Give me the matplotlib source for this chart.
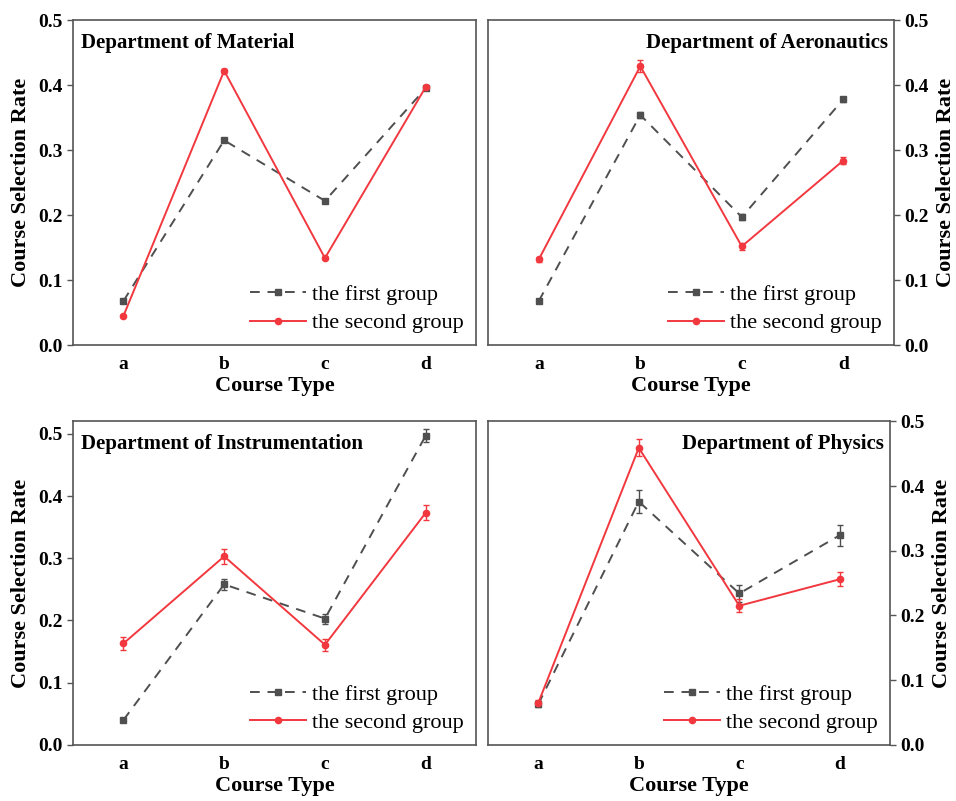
import numpy as np
import matplotlib
matplotlib.use("Agg")
import matplotlib.pyplot as plt

plt.rcParams['font.family'] = ['Liberation Serif', 'DejaVu Serif']
plt.rcParams['font.weight'] = 'bold'

# course types on the x axis
course_types = ['a', 'b', 'c', 'd']

# Department of Material
material_first = [0.068, 0.315, 0.222, 0.395]
material_first_err = [0.002, 0.002, 0.002, 0.002]
material_second = [0.045, 0.422, 0.134, 0.397]
material_second_err = [0.002, 0.002, 0.002, 0.002]

# Department of Aeronautics
aero_first = [0.068, 0.354, 0.197, 0.378]
aero_first_err = [0.003, 0.005, 0.004, 0.004]
aero_second = [0.132, 0.429, 0.152, 0.284]
aero_second_err = [0.004, 0.009, 0.005, 0.006]

# Department of Instrumentation
instr_first = [0.040, 0.258, 0.203, 0.497]
instr_first_err = [0.003, 0.009, 0.008, 0.010]
instr_second = [0.163, 0.303, 0.161, 0.373]
instr_second_err = [0.010, 0.012, 0.010, 0.012]

# Department of Physics
phys_first = [0.063, 0.376, 0.234, 0.324]
phys_first_err = [0.005, 0.018, 0.013, 0.016]
phys_second = [0.065, 0.459, 0.215, 0.256]
phys_second_err = [0.005, 0.013, 0.010, 0.011]

gray = '#4f4f4f'
red = '#f2383f'

fig = plt.figure(figsize=(9.56, 8.01), dpi=100)

panels = [
    ([0.0764, 0.569, 0.4216, 0.406], 'Department of Material', 'left', 0.5,
     material_first, material_first_err, material_second, material_second_err),
    ([0.5105, 0.569, 0.4247, 0.406], 'Department of Aeronautics', 'right', 0.5,
     aero_first, aero_first_err, aero_second, aero_second_err),
    ([0.0764, 0.070, 0.4216, 0.404], 'Department of Instrumentation', 'left', 0.52,
     instr_first, instr_first_err, instr_second, instr_second_err),
    ([0.5105, 0.070, 0.4205, 0.404], 'Department of Physics', 'right', 0.5,
     phys_first, phys_first_err, phys_second, phys_second_err),
]

x = np.arange(len(course_types))

for rect, title, side, ytop, f, fe, s, se in panels:
    ax = fig.add_axes(rect)
    h1 = ax.errorbar(x, f, yerr=fe, color=gray, ls=(0, (5, 4)), lw=1.4,
                     marker='s', ms=4, capsize=2.5, elinewidth=1)
    h2 = ax.errorbar(x, s, yerr=se, color=red, ls='-', lw=1.4,
                     marker='o', ms=4.5, capsize=2.5, elinewidth=1)
    ax.set_xlim(-0.5, 3.5)
    ax.set_ylim(0, ytop)
    ax.set_xticks(x)
    ax.set_xticklabels(course_types)
    ax.set_yticks(np.arange(0, 0.51, 0.1))
    ax.yaxis.set_major_formatter(matplotlib.ticker.FormatStrFormatter('%.1f'))
    for sp in ax.spines.values():
        sp.set_color('#555555')
        sp.set_linewidth(1.2)
    ax.tick_params(axis='x', length=0, pad=8, labelsize=14)
    ax.tick_params(axis='y', direction='out', length=4, width=1, color='#555555',
                   labelsize=14)
    ax.set_xlabel('Course Type', fontsize=16, fontweight='bold', labelpad=2)
    if side == 'right':
        ax.yaxis.tick_right()
        ax.yaxis.set_label_position('right')
        ax.set_ylabel('Course Selection Rate', fontsize=16, fontweight='bold', labelpad=5)
        ax.text(0.985, 0.93, title, transform=ax.transAxes, ha='right', va='center',
                fontsize=15, fontweight='bold')
    else:
        ax.set_ylabel('Course Selection Rate', fontsize=16, fontweight='bold', labelpad=5)
        ax.text(0.02, 0.93, title, transform=ax.transAxes, ha='left', va='center',
                fontsize=15, fontweight='bold')
    ax.legend([h1[0], h2[0]], ['the first group', 'the second group'],
              loc='lower right', bbox_to_anchor=(1.02, -0.025),
              frameon=False, prop={'size': 16, 'weight': 'normal'},
              handlelength=2.5, handletextpad=0.3, labelspacing=0.35)

fig.savefig('out.png', dpi=100)
